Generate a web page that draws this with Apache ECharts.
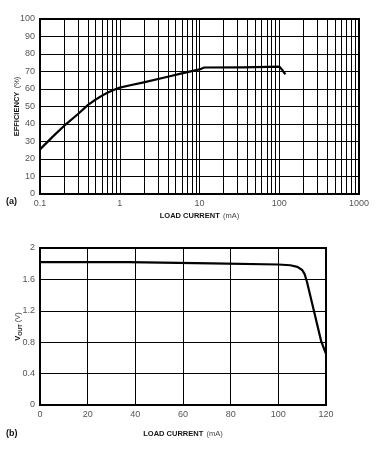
<!DOCTYPE html>
<html><head><meta charset="utf-8">
<script src="https://cdn.jsdelivr.net/npm/echarts@6/dist/echarts.min.js"></script>
<style>html,body{margin:0;padding:0;background:#fff}#c{width:378px;height:452px}</style>
</head><body><div id="c"></div>
<script>
// Chart (a): efficiency vs load current (log)
const effCurrent = [0.1, 0.15, 0.2, 0.3, 0.4, 0.5, 0.6, 0.7, 0.85, 1, 1.4, 2, 4, 6, 10, 11.5, 35, 36, 100, 105, 110, 115, 120];
const effValue   = [25.5, 33.5, 38.9, 45.7, 50.9, 54, 56.2, 57.9, 59.6, 60.8, 62.3, 63.8, 67, 68.9, 71.2, 72.3, 72.4, 72.9, 72.8, 72.1, 70.7, 69.3, 68.5];
const effYTicks = [0, 10, 20, 30, 40, 50, 60, 70, 80, 90, 100];
const logMinor = [0.2,0.3,0.4,0.5,0.6,0.7,0.8,0.9, 2,3,4,5,6,7,8,9, 20,30,40,50,60,70,80,90, 200,300,400,500,600,700,800,900];

// Chart (b): Vout vs load current
const voutCurrent = [0, 37, 37.5, 72, 72.5, 100, 105, 108, 110, 111, 112, 115, 118, 120];
const voutValue   = [1.82, 1.82, 1.805, 1.805, 1.79, 1.79, 1.78, 1.76, 1.72, 1.67, 1.57, 1.19, 0.81, 0.65];

const tickStyle = {color:'#555', fontSize:9, fontFamily:'Liberation Sans'};
const nameRich = {
  b:{fontWeight:'bold', fontSize:7.5, fontFamily:'Liberation Sans Narrow, Liberation Sans', color:'#111'},
  r:{fontSize:7.5, fontFamily:'Liberation Sans', color:'#444'},
  s:{fontWeight:'bold', fontSize:5.5, fontFamily:'Liberation Sans', color:'#111', padding:[4,0,0,0]}
};
const chart = echarts.init(document.getElementById('c'), null, {renderer:'canvas'});
chart.setOption({
  animation:false,
  grid:[
    {left:40, top:19, width:319, height:175, show:true, borderColor:'#000', borderWidth:2, z:3, containLabel:false, outerBoundsMode:'none'},
    {left:40, top:248, width:286, height:157, show:true, borderColor:'#000', borderWidth:2, z:3, containLabel:false, outerBoundsMode:'none'}
  ],
  xAxis:[
    {gridIndex:0, type:'log', logBase:10, min:0.1, max:1000,
     axisLine:{show:false}, axisTick:{show:false},
     axisLabel:Object.assign({margin:5, formatter:v=>String(v)}, tickStyle),
     splitLine:{show:true, lineStyle:{color:'#000', width:1}},
     name:'{b|LOAD CURRENT} {r|(mA)}', nameLocation:'middle', nameGap:16, nameMoveOverlap:false,
     nameTextStyle:{rich:nameRich}},
    {gridIndex:1, type:'value', min:0, max:120, interval:20,
     axisLine:{show:false}, axisTick:{show:false},
     axisLabel:Object.assign({margin:5}, tickStyle),
     splitLine:{show:true, lineStyle:{color:'#000', width:1}},
     name:'{b|LOAD CURRENT} {r|(mA)}', nameLocation:'middle', nameGap:23, nameMoveOverlap:false,
     nameTextStyle:{rich:nameRich}}
  ],
  yAxis:[
    {gridIndex:0, type:'value', min:effYTicks[0], max:effYTicks[effYTicks.length-1], interval:10,
     axisLine:{show:false}, axisTick:{show:false},
     axisLabel:Object.assign({margin:5}, tickStyle),
     splitLine:{show:true, lineStyle:{color:'#000', width:1}},
     name:'{b|EFFICIENCY} {r|(%)}', nameLocation:'middle', nameGap:17, nameMoveOverlap:false,
     nameTextStyle:{rich:nameRich}},
    {gridIndex:1, type:'value', min:0, max:2, interval:0.4,
     axisLine:{show:false}, axisTick:{show:false},
     axisLabel:Object.assign({margin:5}, tickStyle),
     splitLine:{show:true, lineStyle:{color:'#000', width:1}},
     name:'{b|V}{s|OUT}{r| (V)}', nameLocation:'middle', nameGap:17, nameMoveOverlap:false,
     nameTextStyle:{rich:nameRich}}
  ],
  series:[
    {type:'line', xAxisIndex:0, yAxisIndex:0, data:effCurrent.map((x,i)=>[x,effValue[i]]),
     showSymbol:false, smooth:false, lineStyle:{color:'#000', width:2.2, join:'round'}, z:5,
     markLine:{silent:true, symbol:'none', label:{show:false},
       lineStyle:{color:'#000', width:1, type:'solid'},
       data:logMinor.map(v=>({xAxis:v}))}},
    {type:'line', xAxisIndex:1, yAxisIndex:1, data:voutCurrent.map((x,i)=>[x,voutValue[i]]),
     showSymbol:false, smooth:false, lineStyle:{color:'#000', width:2.2, join:'round'}, z:5}
  ],
  graphic:[
    {type:'text', left:6, top:197, style:{text:'(a)', font:'bold 9px Liberation Sans', fill:'#111'}},
    {type:'text', left:6, top:429, style:{text:'(b)', font:'bold 9px Liberation Sans', fill:'#111'}}
  ]
});
</script></body></html>
